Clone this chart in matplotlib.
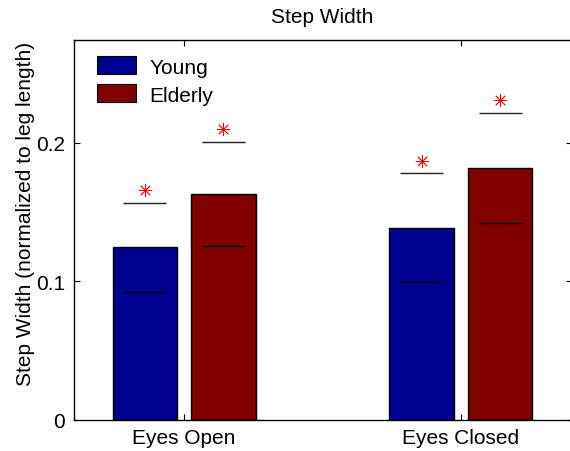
import matplotlib
matplotlib.use("Agg")
import matplotlib.pyplot as plt
import numpy as np

plt.rcParams['font.family'] = ['Liberation Sans', 'DejaVu Sans']

conditions = ["Eyes Open", "Eyes Closed"]
groups = ["Young", "Elderly"]
colors = ["#00008F", "#800000"]

# mean step width and standard deviation, per group, per condition
young_mean = [0.1245, 0.1386]
elderly_mean = [0.1632, 0.1819]
young_sd = [0.0322, 0.0393]
elderly_sd = [0.0376, 0.0400]

means = [young_mean, elderly_mean]
sds = [young_sd, elderly_sd]

FS = 15

fig = plt.figure(figsize=(5.70, 4.52), dpi=100)
W, H = 570, 452
ax = fig.add_axes([73.5 / W, 1 - 420.7 / H, (571.5 - 73.5) / W, (420.7 - 40.7) / H])

x = np.arange(1, len(conditions) + 1)
offset = 0.142
bar_w = 0.232
line_half = 0.078
star_gap = 0.0092

for gi, (g, c) in enumerate(zip(groups, colors)):
    xs = x + (-offset if gi == 0 else offset)
    m = np.array(means[gi])
    s = np.array(sds[gi])
    ax.bar(xs, m, width=bar_w, color=c, edgecolor="black", linewidth=1.0, label=g, zorder=2)
    ax.hlines(m - s, xs - line_half, xs + line_half, color="black", linewidth=1.0, zorder=3)
    ax.hlines(m + s, xs - line_half, xs + line_half, color="#222222", linewidth=1.0, zorder=3)
    ax.plot(xs, m + s + star_gap, linestyle="none", marker=(8, 2, 0), markersize=9.5,
            markeredgecolor="red", markerfacecolor="red", markeredgewidth=0.6, zorder=4)

ax.set_xlim(0.6, 2.4)
ax.set_ylim(0, 0.2745)
ax.set_xticks(x)
ax.set_xticklabels(conditions)
ax.set_yticks([0, 0.1, 0.2])
ax.set_yticklabels(["0", "0.1", "0.2"])
ax.tick_params(direction="in", length=4.5, width=0.8, labelsize=FS, top=True, right=True, pad=6)
for sp in ax.spines.values():
    sp.set_linewidth(1.0)
    sp.set_color("black")

ax.set_title("Step Width", fontsize=FS, pad=13)
ax.set_ylabel("Step Width (normalized to leg length)", fontsize=FS)
ax.yaxis.set_label_coords(-0.077, 0.544)

leg = ax.legend(loc="upper left", bbox_to_anchor=(0.03, 0.978), frameon=False, fontsize=FS,
                handlelength=1.87, handleheight=0.95, handletextpad=0.65, labelspacing=0.38,
                borderaxespad=0.0)
for p in leg.get_patches():
    p.set_linewidth(0.8)

fig.savefig("out.png", dpi=100)
